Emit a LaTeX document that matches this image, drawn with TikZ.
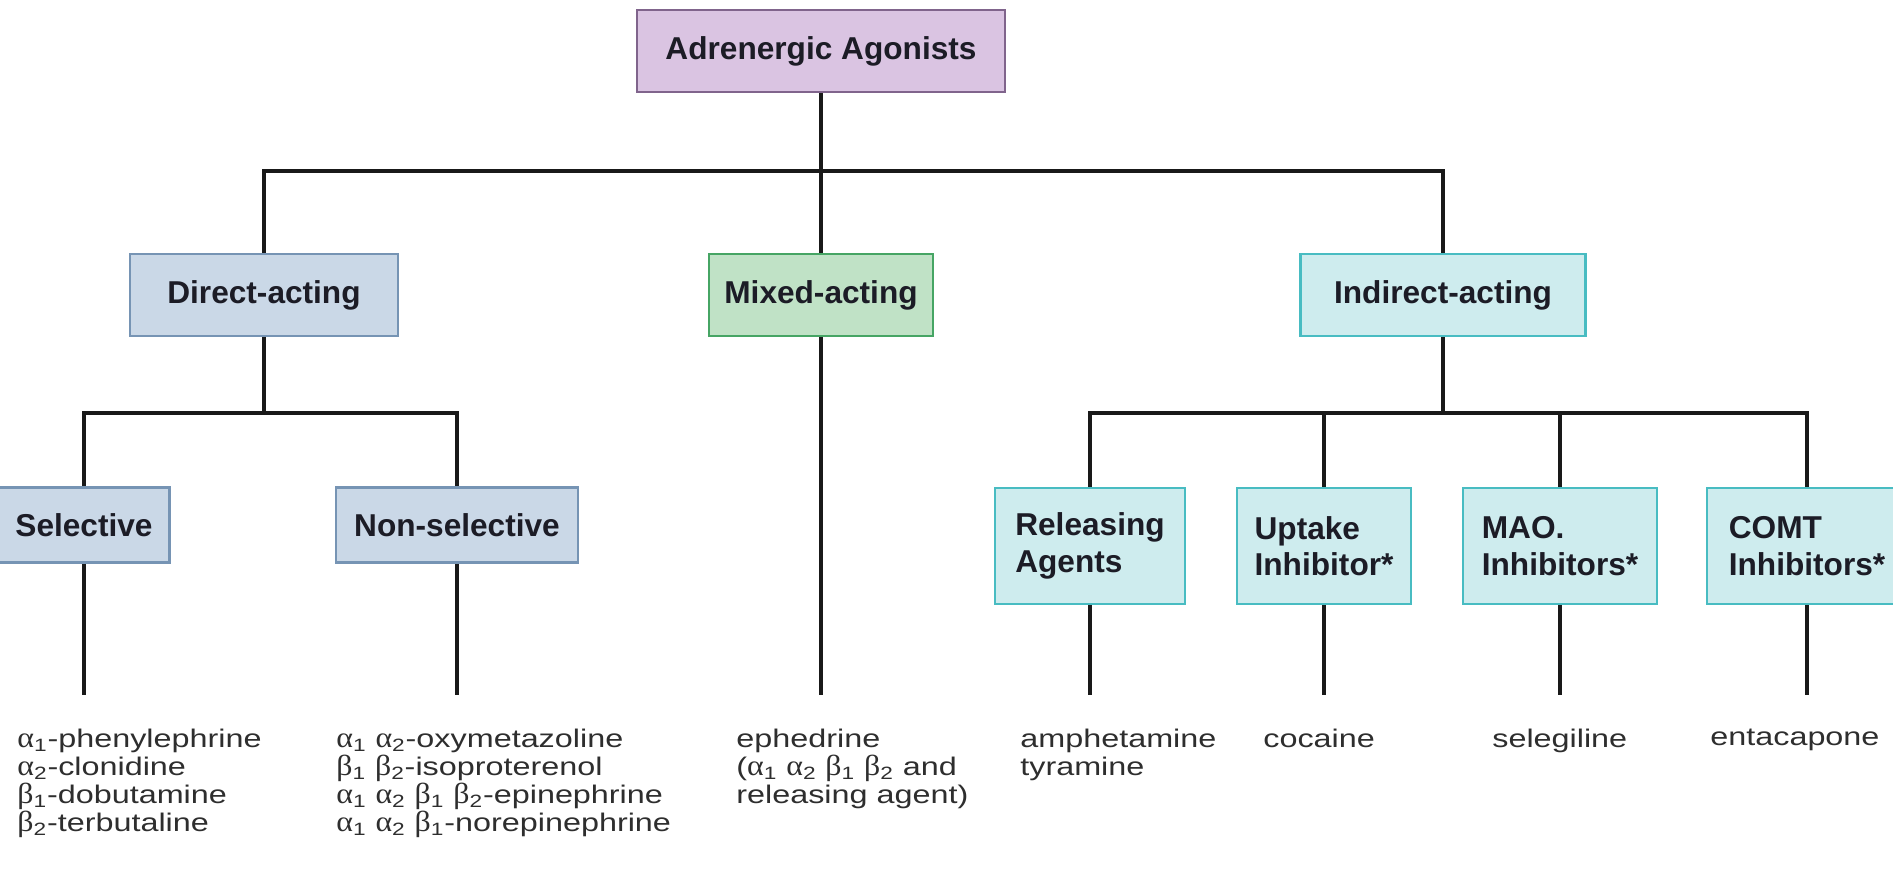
\documentclass[tikz,border=0pt]{standalone}
\usepackage{fontspec}
\setmainfont{Liberation Sans}
\newfontfamily\listfont{Liberation Sans}[FakeStretch=1.27]
\newfontfamily\greekfont{Liberation Serif}[FakeStretch=1.1]
\usetikzlibrary{positioning}

\definecolor{agonfill}{RGB}{218,196,226}
\definecolor{agondraw}{RGB}{128,100,140}
\definecolor{directfill}{RGB}{202,216,231}
\definecolor{directdraw}{RGB}{118,148,180}
\definecolor{mixedfill}{RGB}{192,226,198}
\definecolor{mixeddraw}{RGB}{70,165,100}
\definecolor{indirfill}{RGB}{206,236,238}
\definecolor{indirdraw}{RGB}{72,188,194}
\definecolor{labeltext}{RGB}{28,28,38}

\newcommand{\alp}[1]{{\greekfont\fontsize{16.5}{15.9}\selectfont α}\textsubscript{#1}}
\newcommand{\bet}[1]{{\greekfont\fontsize{16.5}{15.9}\selectfont β}\textsubscript{#1}}

\begin{document}
\begin{tikzpicture}[x=0.02cm, y=-0.02cm,
    box/.style={draw, line width=1.6pt, inner sep=0pt, align=left, text=labeltext,
        font=\fontsize{18}{20.8}\selectfont\bfseries},
    agonbox/.style={box, fill=agonfill, draw=agondraw},
    directbox/.style={box, fill=directfill, draw=directdraw},
    mixedbox/.style={box, fill=mixedfill, draw=mixeddraw},
    indirbox/.style={box, fill=indirfill, draw=indirdraw},
    tree/.style={line width=2.3pt, black!90},
    listtxt/.style={anchor=north west, inner sep=0pt, align=left, text=black!82,
        font=\listfont\fontsize{14.5}{15.9}\selectfont}]
    \clip (0,0) rectangle (1893,880);

    % top level
    \node[agonbox, minimum width=7.36cm, minimum height=1.64cm] (agon) at (821, 51) {Adrenergic Agonists};

    % second level
    \node[directbox, minimum width=5.36cm, minimum height=1.64cm] (direct) at (264, 295) {Direct-acting};
    \node[mixedbox, minimum width=4.48cm, minimum height=1.64cm] (mixed) at (821, 295) {Mixed-acting};
    \node[indirbox, minimum width=5.7cm, minimum height=1.64cm] (indirect) at (1443, 295) {Indirect-acting};

    % third level
    \node[directbox, minimum width=3.42cm, minimum height=1.5cm] (sel) at (84, 525) {Selective};
    \node[directbox, minimum width=4.84cm, minimum height=1.5cm] (nonsel) at (457, 525) {Non-selective};
    \node[indirbox, minimum width=3.8cm, minimum height=2.32cm] (releasing) at (1090, 546) {Releasing\\Agents};
    \node[indirbox, minimum width=3.48cm, minimum height=2.32cm] (uptake) at (1324, 546) {Uptake\\Inhibitor*};
    \node[indirbox, minimum width=3.88cm, minimum height=2.32cm] (mao) at (1560, 546) {MAO.\\Inhibitors*};
    \node[indirbox, minimum width=4cm, minimum height=2.32cm] (comt) at (1807, 546) {COMT\\Inhibitors*};

    % drug lists
    \node[listtxt] (seltxt) at (17, 729) {\alp{1}-phenylephrine\\\alp{2}-clonidine\\\bet{1}-dobutamine\\\bet{2}-terbutaline};
    \node[listtxt] (nonseltxt) at (336, 729) {\alp{1} \alp{2}-oxymetazoline\\\bet{1} \bet{2}-isoproterenol\\\alp{1} \alp{2} \bet{1} \bet{2}-epinephrine\\\alp{1} \alp{2} \bet{1}-norepinephrine};
    \node[listtxt] (mixedtxt) at (736, 729) {ephedrine\\(\alp{1} \alp{2} \bet{1} \bet{2} and\\releasing agent)};
    \node[listtxt] (releasingtxt) at (1020, 729) {amphetamine\\tyramine};
    \node[listtxt] (uptaketxt) at (1263, 729) {cocaine};
    \node[listtxt] (maotxt) at (1492, 729) {selegiline};
    \node[listtxt] (comttxt) at (1710, 729) {entacapone};

    % connectors
    \coordinate (bus1) at (0, 171);
    \coordinate (bus2) at (0, 413);
    \coordinate (ends) at (0, 695);
    \draw[tree] (agon.south) -- (mixed.north);
    \draw[tree] (direct.north) |- (bus1 -| indirect) -- (indirect.north);
    \draw[tree] (direct.south) -- (direct |- bus2);
    \draw[tree] (sel.north) |- (bus2 -| nonsel) -- (nonsel.north);
    \draw[tree] (indirect.south) -- (indirect |- bus2);
    \draw[tree] (releasing.north) |- (bus2 -| comt) -- (comt.north);
    \draw[tree] (uptake.north) -- (uptake |- bus2);
    \draw[tree] (mao.north) -- (mao |- bus2);
    \draw[tree] (sel.south) -- (sel |- ends);
    \draw[tree] (nonsel.south) -- (nonsel |- ends);
    \draw[tree] (mixed.south) -- (mixed |- ends);
    \draw[tree] (releasing.south) -- (releasing |- ends);
    \draw[tree] (uptake.south) -- (uptake |- ends);
    \draw[tree] (mao.south) -- (mao |- ends);
    \draw[tree] (comt.south) -- (comt |- ends);
\end{tikzpicture}
\end{document}
